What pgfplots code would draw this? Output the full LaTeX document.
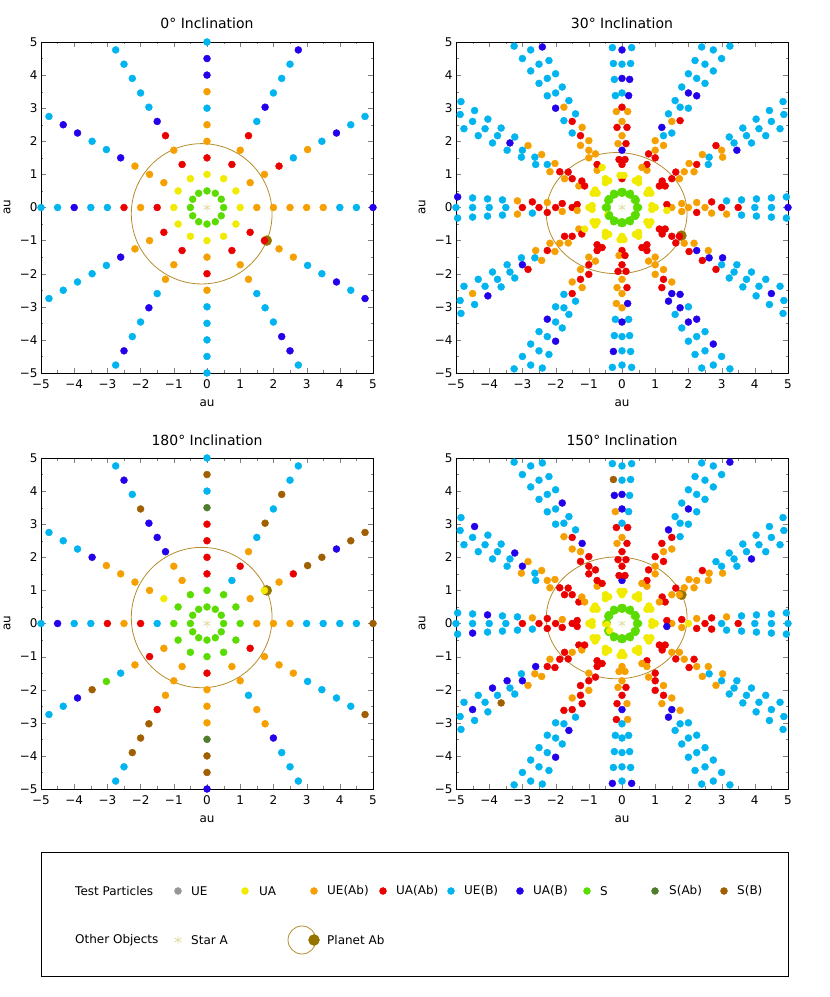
\documentclass[border=0pt]{standalone}
\usepackage{fontspec}
\setmainfont{DejaVu Sans}
\usepackage{pgfplots}
\pgfplotsset{compat=1.18}

\definecolor{cY}{RGB}{240,235,0}
\definecolor{cO}{RGB}{245,160,0}
\definecolor{cR}{RGB}{235,0,0}
\definecolor{cL}{RGB}{0,180,240}
\definecolor{cB}{RGB}{35,0,235}
\definecolor{cG}{RGB}{90,220,0}
\definecolor{cD}{RGB}{80,125,45}
\definecolor{cN}{RGB}{160,95,0}
\definecolor{cE}{RGB}{150,150,150}
\definecolor{orbit}{RGB}{180,140,45}
\definecolor{planet}{RGB}{150,115,0}
\definecolor{star}{RGB}{225,220,165}

\tikzset{lg/.style={anchor=west, inner sep=0pt, font=\fontsize{12}{14}\selectfont}}

\pgfplotsset{
  panel/.style={
    width=332pt, height=331pt, scale only axis,
    xmin=-5, xmax=5, ymin=-5, ymax=5,
    xtick={-5,...,5}, ytick={-5,...,5},
    xticklabels={−5,−4,−3,−2,−1,0,1,2,3,4,5},
    yticklabels={−5,−4,−3,−2,−1,0,1,2,3,4,5},
    minor tick num=1, tick align=inside,
    xtick pos=both, ytick pos=both,
    major tick length=5pt, minor tick length=2.5pt,
    tick label style={font=\fontsize{12}{14}\selectfont},
    xticklabel style={yshift=-3pt},
    xlabel={au}, ylabel={au},
    label style={font=\fontsize{12}{14}\selectfont},
    xlabel style={at={(axis description cs:0.5,0)}, anchor=base, yshift=-34pt},
    ylabel style={at={(axis description cs:-0.092,0.5)}, anchor=base},
    title style={at={(0.5,1)}, anchor=base, yshift=7pt, font=\fontsize{14}{16}\selectfont},
  },
  particles/.style={
    scatter, only marks, mark=*, mark size=3.5pt,
    scatter src=explicit symbolic,
    scatter/classes={
      E={mark=*,cE}, Y={mark=*,cY}, O={mark=*,cO}, R={mark=*,cR},
      L={mark=*,cL}, B={mark=*,cB}, G={mark=*,cG}, D={mark=*,cD}, N={mark=*,cN}}
  },
}

\begin{document}
\begin{tikzpicture}
\path[use as bounding box] (0,0) rectangle (830pt,997pt);

% ---------------- 0 deg ----------------
\begin{axis}[panel, at={(41pt,624pt)}, anchor=south west, title={0° Inclination}]
\draw[orbit, line width=0.8pt] (axis cs:-0.16,-0.19) ellipse [x radius=2.12, y radius=2.12];
\addplot[only marks, mark=*, mark size=5pt, color=planet] coordinates {(1.8,-1.0)};
\addplot[particles] table[meta=c, row sep=\\] {
x y c\\
0.5 0 G\\ 0.43 0.25 G\\ 0.25 0.43 G\\ 0 0.5 G\\ -0.25 0.43 G\\ -0.43 0.25 G\\ -0.5 0 G\\ -0.43 -0.25 G\\ -0.25 -0.43 G\\ 0 -0.5 G\\ 0.25 -0.43 G\\ 0.43 -0.25 G\\
1 0 Y\\ 0.87 0.5 Y\\ 0.5 0.87 Y\\ 0 1 Y\\ -0.5 0.87 Y\\ -0.87 0.5 Y\\ -1 0 Y\\ -0.87 -0.5 Y\\ -0.5 -0.87 Y\\ 0 -1 Y\\ 0.5 -0.87 Y\\ 0.87 -0.5 Y\\
1.5 0 O\\ 1.3 0.75 O\\ 0.75 1.3 R\\ 0 1.5 R\\ -0.75 1.3 R\\ -1.3 0.75 O\\ -1.5 0 R\\ -1.3 -0.75 R\\ -0.75 -1.3 R\\ 0 -1.5 O\\ 0.75 -1.3 R\\ 1.3 -0.75 R\\
2 0 O\\ 1.73 1 O\\ 1 1.73 O\\ 0 2 O\\ -1 1.73 O\\ -1.73 1 O\\ -2 0 O\\ -1.73 -1 O\\ -1 -1.73 O\\ 0 -2 R\\ 1 -1.73 O\\ 1.73 -1 R\\
2.5 0 O\\ 2.17 1.25 R\\ 1.25 2.17 R\\ 0 2.5 O\\ -1.25 2.17 R\\ -2.17 1.25 O\\ -2.5 0 R\\ -2.17 -1.25 O\\ -1.25 -2.17 O\\ 0 -2.5 O\\ 1.25 -2.17 O\\ 2.17 -1.25 O\\
3 0 O\\ 2.6 1.5 L\\ 1.5 2.6 L\\ 0 3 L\\ -1.5 2.6 B\\ -2.6 1.5 B\\ -3 0 L\\ -2.6 -1.5 B\\ -1.5 -2.6 L\\ 0 -3 L\\ 1.5 -2.6 L\\ 2.6 -1.5 O\\
3.5 0 O\\ 3.03 1.75 O\\ 1.75 3.03 B\\ 0 3.5 O\\ -1.75 3.03 L\\ -3.03 1.75 L\\ -3.5 0 L\\ -3.03 -1.75 L\\ -1.75 -3.03 B\\ 0 -3.5 L\\ 1.75 -3.03 L\\ 3.03 -1.75 L\\
4 0 L\\ 3.46 2 L\\ 2 3.46 L\\ 0 4 B\\ -2 3.46 L\\ -3.46 2 L\\ -4 0 B\\ -3.46 -2 L\\ -2 -3.46 L\\ 0 -4 L\\ 2 -3.46 L\\ 3.46 -2 L\\
4.5 0 L\\ 3.9 2.25 B\\ 2.25 3.9 L\\ 0 4.5 B\\ -2.25 3.9 L\\ -3.9 2.25 B\\ -4.5 0 L\\ -3.9 -2.25 L\\ -2.25 -3.9 L\\ 0 -4.5 L\\ 2.25 -3.9 B\\ 3.9 -2.25 B\\
5 0 B\\ 4.33 2.5 L\\ 2.5 4.33 L\\ 0 5 L\\ -2.5 4.33 L\\ -4.33 2.5 B\\ -5 0 L\\ -4.33 -2.5 L\\ -2.5 -4.33 B\\ 0 -5 L\\ 2.5 -4.33 B\\ 4.33 -2.5 L\\
4.76 2.75 L\\ 2.75 4.76 B\\ -2.75 4.76 L\\ -4.76 2.75 L\\ -4.76 -2.75 L\\ -2.75 -4.76 L\\ 2.75 -4.76 L\\ 4.76 -2.75 B\\
};
\addplot[only marks, mark=asterisk, mark size=4pt, line width=0.8pt, color=star] coordinates {(0,0)};
\end{axis}

% ---------------- 30 deg ----------------
\begin{axis}[panel, at={(456pt,624pt)}, anchor=south west, title={30° Inclination}]
\draw[orbit, line width=0.8pt] (axis cs:-0.16,-0.17) ellipse [x radius=2.12, y radius=1.83];
\addplot[only marks, mark=*, mark size=5pt, color=planet] coordinates {(1.79,-0.85)};
\addplot[particles] table[meta=c, row sep=\\] {
x y c\\
0.5 0 G\\ 0.45 0.03 G\\ 0.45 -0.03 G\\ 0.43 0.22 G\\ 0.4 0.27 G\\ 0.375 0.22 G\\
0.25 0.375 G\\ 0.25 0.43 G\\ 0.2 0.4 G\\ 0 0.43 G\\ 0.03 0.48 G\\ -0.03 0.48 G\\
-0.25 0.375 G\\ -0.25 0.43 G\\ -0.2 0.4 G\\ -0.43 0.22 G\\ -0.4 0.27 G\\ -0.375 0.22 G\\
-0.5 0 G\\ -0.45 0.03 G\\ -0.45 -0.03 G\\ -0.43 -0.22 Y\\ -0.4 -0.27 G\\ -0.375 -0.22 G\\
-0.25 -0.375 G\\ -0.25 -0.43 G\\ -0.2 -0.4 G\\ 0 -0.43 G\\ 0.03 -0.48 G\\ -0.03 -0.48 G\\
0.25 -0.375 G\\ 0.25 -0.43 G\\ 0.2 -0.4 G\\ 0.43 -0.22 G\\ 0.4 -0.27 G\\ 0.375 -0.22 G\\
1 0 Y\\ 0.9 0.06 Y\\ 0.9 -0.06 Y\\ 0.87 0.43 Y\\ 0.81 0.53 Y\\ 0.75 0.43 Y\\
0.5 0.75 Y\\ 0.5 0.87 Y\\ 0.4 0.81 Y\\ 0 0.87 R\\ 0.06 0.97 Y\\ -0.06 0.97 Y\\
-0.5 0.75 Y\\ -0.5 0.87 Y\\ -0.4 0.81 Y\\ -0.87 0.43 Y\\ -0.81 0.53 Y\\ -0.75 0.43 Y\\
-1 0 Y\\ -0.9 0.06 Y\\ -0.9 -0.06 Y\\ -0.87 -0.43 Y\\ -0.81 -0.53 Y\\ -0.75 -0.43 Y\\
-0.5 -0.75 Y\\ -0.5 -0.87 Y\\ -0.4 -0.81 Y\\ 0 -0.87 Y\\ 0.06 -0.97 Y\\ -0.06 -0.97 Y\\
0.5 -0.75 Y\\ 0.5 -0.87 Y\\ 0.4 -0.81 Y\\ 0.87 -0.43 Y\\ 0.81 -0.53 Y\\ 0.75 -0.43 Y\\
1.5 0 O\\ 1.35 0.09 R\\ 1.35 -0.09 Y\\
2 0 O\\ 1.8 0.12 O\\ 1.8 -0.12 O\\
2.5 0 O\\ 2.25 0.15 O\\ 2.25 -0.15 R\\
3 0 R\\ 2.7 0.17 R\\ 2.7 -0.17 O\\
3.5 0 R\\ 3.15 0.2 L\\ 3.15 -0.2 O\\
4 0 L\\ 3.6 0.23 L\\ 3.6 -0.23 L\\
4.5 0 L\\ 4.05 0.26 L\\ 4.05 -0.26 L\\
5 0 B\\ 4.5 0.29 L\\ 4.5 -0.29 L\\
4.95 0.32 L\\ 4.95 -0.32 L\\
-1.5 0 R\\ -1.35 0.09 R\\ -1.35 -0.09 O\\
-2 0 R\\ -1.8 0.12 R\\ -1.8 -0.12 O\\
-2.5 0 R\\ -2.25 0.15 O\\ -2.25 -0.15 R\\
-3 0 R\\ -2.7 0.17 R\\ -2.7 -0.17 L\\
-3.5 0 L\\ -3.15 0.2 O\\ -3.15 -0.2 O\\
-4 0 L\\ -3.6 0.23 L\\ -3.6 -0.23 L\\
-4.5 0 L\\ -4.05 0.26 L\\ -4.05 -0.26 L\\
-5 0 L\\ -4.5 0.29 L\\ -4.5 -0.29 L\\
-4.95 0.32 B\\ -4.95 -0.32 L\\
0 1.3 R\\ 0.09 1.45 R\\ -0.09 1.45 R\\
0 1.73 B\\ 0.12 1.93 R\\ -0.12 1.93 O\\
0 2.17 O\\ 0.15 2.42 R\\ -0.15 2.42 R\\
0 2.6 O\\ 0.17 2.9 O\\ -0.17 2.9 O\\
0 3.03 R\\ 0.2 3.38 B\\ -0.2 3.38 L\\
0 3.46 L\\ 0.23 3.87 B\\ -0.23 3.87 L\\
0 3.9 B\\ 0.26 4.35 L\\ -0.26 4.35 L\\
0 4.33 L\\ 0.29 4.83 L\\ -0.29 4.83 L\\
0 4.76 B\\
0 -1.3 R\\ -0.09 -1.45 O\\ 0.09 -1.45 R\\
0 -1.73 R\\ -0.12 -1.93 R\\ 0.12 -1.93 R\\
0 -2.17 O\\ -0.15 -2.42 O\\ 0.15 -2.42 R\\
0 -2.6 O\\ -0.17 -2.9 O\\ 0.17 -2.9 B\\
0 -3.03 O\\ -0.2 -3.38 L\\ 0.2 -3.38 L\\
0 -3.46 B\\ -0.23 -3.87 L\\ 0.23 -3.87 L\\
0 -3.9 L\\ -0.26 -4.35 B\\ 0.26 -4.35 L\\
0 -4.33 L\\ -0.29 -4.83 L\\ 0.29 -4.83 L\\
0 -4.76 L\\
1.3 0.65 R\\ 1.21 0.8 R\\ 1.125 0.65 R\\
1.73 0.87 O\\ 1.62 1.07 R\\ 1.5 0.87 R\\
2.17 1.08 O\\ 2.02 1.33 O\\ 1.875 1.08 O\\
2.6 1.3 L\\ 2.42 1.6 O\\ 2.25 1.3 R\\
3.03 1.52 O\\ 2.83 1.87 R\\ 2.625 1.52 L\\
3.46 1.73 B\\ 3.23 2.13 L\\ 3 1.73 O\\
3.9 1.95 L\\ 3.64 2.4 L\\ 3.375 1.95 L\\
4.33 2.17 L\\ 4.04 2.67 L\\ 3.75 2.17 L\\
4.76 2.38 L\\ 4.44 2.93 L\\ 4.125 2.38 L\\
4.85 3.2 L\\ 4.5 2.6 L\\ 4.875 2.81 L\\
0.75 1.125 O\\ 0.75 1.3 R\\ 0.6 1.21 O\\
1 1.5 R\\ 1 1.73 O\\ 0.8 1.62 R\\
1.25 1.875 O\\ 1.25 2.17 L\\ 1 2.02 O\\
1.5 2.25 L\\ 1.5 2.6 O\\ 1.2 2.42 B\\
1.75 2.625 R\\ 1.75 3.03 L\\ 1.4 2.83 L\\
2 3 L\\ 2 3.46 B\\ 1.6 3.23 L\\
2.25 3.375 B\\ 2.25 3.9 L\\ 1.8 3.64 L\\
2.5 3.75 L\\ 2.5 4.33 L\\ 2 4.04 L\\
2.75 4.125 L\\ 2.75 4.76 L\\ 2.2 4.44 L\\
3 4.5 L\\ 2.4 4.85 L\\ 3.25 4.875 L\\
-0.75 1.125 O\\ -0.75 1.3 R\\ -0.6 1.21 Y\\
-1 1.5 O\\ -1 1.73 O\\ -0.8 1.62 O\\
-1.25 1.875 O\\ -1.25 2.17 R\\ -1 2.02 O\\
-1.5 2.25 L\\ -1.5 2.6 R\\ -1.2 2.42 O\\
-1.75 2.625 L\\ -1.75 3.03 O\\ -1.4 2.83 L\\
-2 3 B\\ -2 3.46 L\\ -1.6 3.23 L\\
-2.25 3.375 L\\ -2.25 3.9 L\\ -1.8 3.64 L\\
-2.5 3.75 L\\ -2.5 4.33 L\\ -2 4.04 L\\
-2.75 4.125 L\\ -2.75 4.76 L\\ -2.2 4.44 L\\
-3 4.5 L\\ -2.4 4.85 B\\ -3.25 4.875 L\\
-1.3 0.65 O\\ -1.21 0.8 R\\ -1.125 0.65 R\\
-1.73 0.87 O\\ -1.62 1.07 R\\ -1.5 0.87 R\\
-2.17 1.08 O\\ -2.02 1.33 O\\ -1.875 1.08 R\\
-2.6 1.3 L\\ -2.42 1.6 O\\ -2.25 1.3 L\\
-3.03 1.52 L\\ -2.83 1.87 O\\ -2.625 1.52 L\\
-3.46 1.73 L\\ -3.23 2.13 L\\ -3 1.73 L\\
-3.9 1.95 L\\ -3.64 2.4 L\\ -3.375 1.95 B\\
-4.33 2.17 L\\ -4.04 2.67 L\\ -3.75 2.17 L\\
-4.76 2.38 L\\ -4.44 2.93 L\\ -4.125 2.38 L\\
-4.85 3.2 L\\ -4.5 2.6 L\\ -4.875 2.81 L\\
-1.3 -0.65 O\\ -1.21 -0.8 R\\ -1.125 -0.65 Y\\
-1.73 -0.87 R\\ -1.62 -1.07 O\\ -1.5 -0.87 R\\
-2.17 -1.08 O\\ -2.02 -1.33 O\\ -1.875 -1.08 O\\
-2.6 -1.3 O\\ -2.42 -1.6 O\\ -2.25 -1.3 R\\
-3.03 -1.52 L\\ -2.83 -1.87 R\\ -2.625 -1.52 L\\
-3.46 -1.73 L\\ -3.23 -2.13 L\\ -3 -1.73 B\\
-3.9 -1.95 L\\ -3.64 -2.4 L\\ -3.375 -1.95 L\\
-4.33 -2.17 L\\ -4.04 -2.67 B\\ -3.75 -2.17 L\\
-4.76 -2.38 L\\ -4.44 -2.93 L\\ -4.125 -2.38 L\\
-4.85 -3.2 L\\ -4.5 -2.6 O\\ -4.875 -2.81 L\\
-0.75 -1.125 R\\ -0.75 -1.3 R\\ -0.6 -1.21 R\\
-1 -1.5 O\\ -1 -1.73 R\\ -0.8 -1.62 O\\
-1.25 -1.875 O\\ -1.25 -2.17 R\\ -1 -2.02 R\\
-1.5 -2.25 O\\ -1.5 -2.6 R\\ -1.2 -2.42 O\\
-1.75 -2.625 L\\ -1.75 -3.03 L\\ -1.4 -2.83 L\\
-2 -3 L\\ -2 -3.46 L\\ -1.6 -3.23 L\\
-2.25 -3.375 B\\ -2.25 -3.9 L\\ -1.8 -3.64 L\\
-2.5 -3.75 L\\ -2.5 -4.33 L\\ -2 -4.04 B\\
-2.75 -4.125 L\\ -2.75 -4.76 L\\ -2.2 -4.44 L\\
-3 -4.5 L\\ -2.4 -4.85 L\\ -3.25 -4.875 L\\
0.75 -1.125 R\\ 0.75 -1.3 R\\ 0.6 -1.21 R\\
1 -1.5 O\\ 1 -1.73 O\\ 0.8 -1.62 O\\
1.25 -1.875 O\\ 1.25 -2.17 R\\ 1 -2.02 O\\
1.5 -2.25 O\\ 1.5 -2.6 B\\ 1.2 -2.42 R\\
1.75 -2.625 B\\ 1.75 -3.03 B\\ 1.4 -2.83 B\\
2 -3 L\\ 2 -3.46 B\\ 1.6 -3.23 L\\
2.25 -3.375 B\\ 2.25 -3.9 L\\ 1.8 -3.64 L\\
2.5 -3.75 L\\ 2.5 -4.33 L\\ 2 -4.04 L\\
2.75 -4.125 B\\ 2.75 -4.76 L\\ 2.2 -4.44 L\\
3 -4.5 L\\ 2.4 -4.85 L\\ 3.25 -4.875 L\\
1.3 -0.65 R\\ 1.21 -0.8 R\\ 1.125 -0.65 R\\
1.73 -0.87 R\\ 1.62 -1.07 R\\ 1.5 -0.87 R\\
2.17 -1.08 O\\ 2.02 -1.33 R\\ 1.875 -1.08 O\\
2.6 -1.3 O\\ 2.42 -1.6 R\\ 2.25 -1.3 B\\
3.03 -1.52 B\\ 2.83 -1.87 R\\ 2.625 -1.52 B\\
3.46 -1.73 L\\ 3.23 -2.13 L\\ 3 -1.73 L\\
3.9 -1.95 L\\ 3.64 -2.4 L\\ 3.375 -1.95 L\\
4.33 -2.17 L\\ 4.04 -2.67 L\\ 3.75 -2.17 L\\
4.76 -2.38 L\\ 4.44 -2.93 L\\ 4.125 -2.38 L\\
4.85 -3.2 L\\ 4.5 -2.6 B\\ 4.875 -2.81 L\\
};
\addplot[only marks, mark=asterisk, mark size=4pt, line width=0.8pt, color=star] coordinates {(0,0)};
\end{axis}

% ---------------- 180 deg ----------------
\begin{axis}[panel, at={(41pt,208pt)}, anchor=south west, title={180° Inclination}]
\draw[orbit, line width=0.8pt] (axis cs:-0.16,0.18) ellipse [x radius=2.12, y radius=2.12];
\addplot[only marks, mark=*, mark size=5pt, color=planet] coordinates {(1.8,1.0)};
\addplot[particles] table[meta=c, row sep=\\] {
x y c\\
0.5 0 G\\ 0.43 0.25 G\\ 0.25 0.43 G\\ 0 0.5 G\\ -0.25 0.43 G\\ -0.43 0.25 G\\ -0.5 0 G\\ -0.43 -0.25 G\\ -0.25 -0.43 G\\ 0 -0.5 G\\ 0.25 -0.43 G\\ 0.43 -0.25 G\\
1 0 G\\ 0.87 0.5 G\\ 0.5 0.87 G\\ 0 1 G\\ -0.5 0.87 G\\ -0.87 0.5 G\\ -1 0 G\\ -0.87 -0.5 G\\ -0.5 -0.87 G\\ 0 -1 G\\ 0.5 -0.87 G\\ 0.87 -0.5 G\\
1.5 0 O\\ 1.3 0.75 O\\ 0.75 1.3 L\\ 0 1.5 R\\ -0.75 1.3 O\\ -1.3 0.75 Y\\ -1.5 0 L\\ -1.3 -0.75 O\\ -0.75 -1.3 O\\ 0 -1.5 R\\ 0.75 -1.3 O\\ 1.3 -0.75 R\\
2 0 O\\ 1.73 1 Y\\ 1 1.73 R\\ 0 2 R\\ -1 1.73 O\\ -1.73 1 O\\ -2 0 R\\ -1.73 -1 R\\ -1 -1.73 O\\ 0 -2 O\\ 1 -1.73 O\\ 1.73 -1 O\\
2.5 0 O\\ 2.17 1.25 O\\ 1.25 2.17 O\\ 0 2.5 R\\ -1.25 2.17 B\\ -2.17 1.25 O\\ -2.5 0 O\\ -2.17 -1.25 O\\ -1.25 -2.17 O\\ 0 -2.5 O\\ 1.25 -2.17 L\\ 2.17 -1.25 O\\
3 0 L\\ 2.6 1.5 R\\ 1.5 2.6 L\\ 0 3 R\\ -1.5 2.6 B\\ -2.6 1.5 O\\ -3 0 R\\ -2.6 -1.5 L\\ -1.5 -2.6 R\\ 0 -3 O\\ 1.5 -2.6 O\\ 2.6 -1.5 O\\
3.5 0 L\\ 3.03 1.75 N\\ 1.75 3.03 N\\ 0 3.5 D\\ -1.75 3.03 B\\ -3.03 1.75 O\\ -3.5 0 L\\ -3.03 -1.75 G\\ -1.75 -3.03 N\\ 0 -3.5 D\\ 1.75 -3.03 O\\ 3.03 -1.75 L\\
4 0 L\\ 3.46 2 N\\ 2 3.46 L\\ 0 4 L\\ -2 3.46 N\\ -3.46 2 B\\ -4 0 L\\ -3.46 -2 N\\ -2 -3.46 N\\ 0 -4 N\\ 2 -3.46 B\\ 3.46 -2 L\\
4.5 0 L\\ 3.9 2.25 B\\ 2.25 3.9 N\\ 0 4.5 N\\ -2.25 3.9 L\\ -3.9 2.25 L\\ -4.5 0 B\\ -3.9 -2.25 B\\ -2.25 -3.9 N\\ 0 -4.5 N\\ 2.25 -3.9 L\\ 3.9 -2.25 L\\
5 0 N\\ 4.33 2.5 N\\ 2.5 4.33 L\\ 0 5 L\\ -2.5 4.33 B\\ -4.33 2.5 L\\ -5 0 L\\ -4.33 -2.5 L\\ -2.5 -4.33 L\\ 0 -5 B\\ 2.5 -4.33 L\\ 4.33 -2.5 L\\
4.76 2.75 N\\ 2.75 4.76 L\\ -2.75 4.76 L\\ -4.76 2.75 L\\ -4.76 -2.75 L\\ -2.75 -4.76 L\\ 2.75 -4.76 L\\ 4.76 -2.75 N\\
};
\addplot[only marks, mark=asterisk, mark size=4pt, line width=0.8pt, color=star] coordinates {(0,0)};
\end{axis}

% ---------------- 150 deg ----------------
\begin{axis}[panel, at={(456pt,208pt)}, anchor=south west, title={150° Inclination}]
\draw[orbit, line width=0.8pt] (axis cs:-0.16,0.17) ellipse [x radius=2.12, y radius=1.84];
\addplot[only marks, mark=*, mark size=5pt, color=planet] coordinates {(1.79,0.87)};
\addplot[particles] table[meta=c, row sep=\\] {
x y c\\
0.5 0 G\\ 0.45 0.03 G\\ 0.45 -0.03 G\\ 0.43 0.22 G\\ 0.4 0.27 G\\ 0.375 0.22 G\\
0.25 0.375 G\\ 0.25 0.43 G\\ 0.2 0.4 G\\ 0 0.43 G\\ 0.03 0.48 G\\ -0.03 0.48 G\\
-0.25 0.375 G\\ -0.25 0.43 G\\ -0.2 0.4 G\\ -0.43 0.22 G\\ -0.4 0.27 G\\ -0.375 0.22 G\\
-0.5 0 Y\\ -0.45 0.03 G\\ -0.45 -0.03 Y\\ -0.43 -0.22 G\\ -0.4 -0.27 G\\ -0.375 -0.22 Y\\
-0.25 -0.375 G\\ -0.25 -0.43 G\\ -0.2 -0.4 G\\ 0 -0.43 G\\ 0.03 -0.48 G\\ -0.03 -0.48 G\\
0.25 -0.375 G\\ 0.25 -0.43 G\\ 0.2 -0.4 G\\ 0.43 -0.22 G\\ 0.4 -0.27 G\\ 0.375 -0.22 G\\
1 0 Y\\ 0.9 0.06 Y\\ 0.9 -0.06 Y\\ 0.87 0.43 Y\\ 0.81 0.53 Y\\ 0.75 0.43 Y\\
0.5 0.75 Y\\ 0.5 0.87 Y\\ 0.4 0.81 Y\\ 0 0.87 Y\\ 0.06 0.97 Y\\ -0.06 0.97 Y\\
-0.5 0.75 Y\\ -0.5 0.87 Y\\ -0.4 0.81 Y\\ -0.87 0.43 Y\\ -0.81 0.53 Y\\ -0.75 0.43 Y\\
-1 0 Y\\ -0.9 0.06 Y\\ -0.9 -0.06 Y\\ -0.87 -0.43 Y\\ -0.81 -0.53 Y\\ -0.75 -0.43 Y\\
-0.5 -0.75 Y\\ -0.5 -0.87 Y\\ -0.4 -0.81 Y\\ 0 -0.87 Y\\ 0.06 -0.97 Y\\ -0.06 -0.97 Y\\
0.5 -0.75 Y\\ 0.5 -0.87 Y\\ 0.4 -0.81 Y\\ 0.87 -0.43 Y\\ 0.81 -0.53 Y\\ 0.75 -0.43 Y\\
1.5 0 O\\ 1.35 0.09 R\\ 1.35 -0.09 B\\
2 0 Y\\ 1.8 0.12 R\\ 1.8 -0.12 O\\
2.5 0 R\\ 2.25 0.15 O\\ 2.25 -0.15 R\\
3 0 L\\ 2.7 0.17 R\\ 2.7 -0.17 R\\
3.5 0 R\\ 3.15 0.2 O\\ 3.15 -0.2 L\\
4 0 L\\ 3.6 0.23 L\\ 3.6 -0.23 L\\
4.5 0 L\\ 4.05 0.26 L\\ 4.05 -0.26 L\\
5 0 L\\ 4.5 0.29 L\\ 4.5 -0.29 L\\
4.95 0.32 L\\ 4.95 -0.32 L\\
-1.5 0 R\\ -1.35 0.09 R\\ -1.35 -0.09 R\\
-2 0 R\\ -1.8 0.12 O\\ -1.8 -0.12 R\\
-2.5 0 R\\ -2.25 0.15 R\\ -2.25 -0.15 R\\
-3 0 R\\ -2.7 0.17 O\\ -2.7 -0.17 L\\
-3.5 0 L\\ -3.15 0.2 L\\ -3.15 -0.2 L\\
-4 0 L\\ -3.6 0.23 L\\ -3.6 -0.23 L\\
-4.5 0 L\\ -4.05 0.26 B\\ -4.05 -0.26 L\\
-5 0 L\\ -4.5 0.29 L\\ -4.5 -0.29 B\\
-4.95 0.32 L\\ -4.95 -0.32 L\\
0 1.3 B\\ 0.09 1.45 R\\ -0.09 1.45 R\\
0 1.73 R\\ 0.12 1.93 R\\ -0.12 1.93 R\\
0 2.17 R\\ 0.15 2.42 R\\ -0.15 2.42 O\\
0 2.6 O\\ 0.17 2.9 R\\ -0.17 2.9 R\\
0 3.03 L\\ 0.2 3.38 L\\ -0.2 3.38 O\\
0 3.46 B\\ 0.23 3.87 L\\ -0.23 3.87 B\\
0 3.9 B\\ 0.26 4.35 L\\ -0.26 4.35 N\\
0 4.33 L\\ 0.29 4.83 L\\ -0.29 4.83 L\\
0 4.76 L\\
0 -1.3 O\\ -0.09 -1.45 O\\ 0.09 -1.45 O\\
0 -1.73 O\\ -0.12 -1.93 O\\ 0.12 -1.93 R\\
0 -2.17 R\\ -0.15 -2.42 R\\ 0.15 -2.42 O\\
0 -2.6 B\\ -0.17 -2.9 R\\ 0.17 -2.9 O\\
0 -3.03 L\\ -0.2 -3.38 L\\ 0.2 -3.38 L\\
0 -3.46 L\\ -0.23 -3.87 L\\ 0.23 -3.87 L\\
0 -3.9 L\\ -0.26 -4.35 L\\ 0.26 -4.35 L\\
0 -4.33 L\\ -0.29 -4.83 B\\ 0.29 -4.83 B\\
0 -4.76 L\\
1.3 0.65 R\\ 1.21 0.8 R\\ 1.125 0.65 O\\
1.73 0.87 O\\ 1.62 1.07 R\\ 1.5 0.87 O\\
2.17 1.08 O\\ 2.02 1.33 O\\ 1.875 1.08 O\\
2.6 1.3 O\\ 2.42 1.6 R\\ 2.25 1.3 O\\
3.03 1.52 O\\ 2.83 1.87 L\\ 2.625 1.52 O\\
3.46 1.73 L\\ 3.23 2.13 L\\ 3 1.73 L\\
3.9 1.95 B\\ 3.64 2.4 L\\ 3.375 1.95 L\\
4.33 2.17 L\\ 4.04 2.67 L\\ 3.75 2.17 L\\
4.76 2.38 L\\ 4.44 2.93 L\\ 4.125 2.38 L\\
4.85 3.2 L\\ 4.5 2.6 L\\ 4.875 2.81 L\\
0.75 1.125 O\\ 0.75 1.3 R\\ 0.6 1.21 O\\
1 1.5 O\\ 1 1.73 O\\ 0.8 1.62 R\\
1.25 1.875 R\\ 1.25 2.17 O\\ 1 2.02 R\\
1.5 2.25 O\\ 1.5 2.6 R\\ 1.2 2.42 R\\
1.75 2.625 L\\ 1.75 3.03 L\\ 1.4 2.83 B\\
2 3 L\\ 2 3.46 B\\ 1.6 3.23 L\\
2.25 3.375 L\\ 2.25 3.9 L\\ 1.8 3.64 L\\
2.5 3.75 L\\ 2.5 4.33 L\\ 2 4.04 L\\
2.75 4.125 L\\ 2.75 4.76 L\\ 2.2 4.44 L\\
3 4.5 L\\ 2.4 4.85 L\\ 3.25 4.875 B\\
-0.75 1.125 O\\ -0.75 1.3 R\\ -0.6 1.21 R\\
-1 1.5 R\\ -1 1.73 R\\ -0.8 1.62 R\\
-1.25 1.875 R\\ -1.25 2.17 O\\ -1 2.02 R\\
-1.5 2.25 O\\ -1.5 2.6 R\\ -1.2 2.42 B\\
-1.75 2.625 O\\ -1.75 3.03 L\\ -1.4 2.83 L\\
-2 3 L\\ -2 3.46 L\\ -1.6 3.23 L\\
-2.25 3.375 L\\ -2.25 3.9 L\\ -1.8 3.64 B\\
-2.5 3.75 L\\ -2.5 4.33 L\\ -2 4.04 L\\
-2.75 4.125 L\\ -2.75 4.76 L\\ -2.2 4.44 L\\
-3 4.5 L\\ -2.4 4.85 L\\ -3.25 4.875 L\\
-1.3 0.65 R\\ -1.21 0.8 O\\ -1.125 0.65 O\\
-1.73 0.87 R\\ -1.62 1.07 R\\ -1.5 0.87 R\\
-2.17 1.08 O\\ -2.02 1.33 O\\ -1.875 1.08 R\\
-2.6 1.3 L\\ -2.42 1.6 O\\ -2.25 1.3 O\\
-3.03 1.52 O\\ -2.83 1.87 O\\ -2.625 1.52 L\\
-3.46 1.73 L\\ -3.23 2.13 B\\ -3 1.73 B\\
-3.9 1.95 L\\ -3.64 2.4 L\\ -3.375 1.95 L\\
-4.33 2.17 L\\ -4.04 2.67 L\\ -3.75 2.17 L\\
-4.76 2.38 L\\ -4.44 2.93 B\\ -4.125 2.38 L\\
-4.85 3.2 L\\ -4.5 2.6 L\\ -4.875 2.81 L\\
-1.3 -0.65 R\\ -1.21 -0.8 O\\ -1.125 -0.65 R\\
-1.73 -0.87 R\\ -1.62 -1.07 R\\ -1.5 -0.87 O\\
-2.17 -1.08 O\\ -2.02 -1.33 R\\ -1.875 -1.08 R\\
-2.6 -1.3 B\\ -2.42 -1.6 O\\ -2.25 -1.3 R\\
-3.03 -1.52 L\\ -2.83 -1.87 O\\ -2.625 -1.52 O\\
-3.46 -1.73 B\\ -3.23 -2.13 L\\ -3 -1.73 B\\
-3.9 -1.95 B\\ -3.64 -2.4 N\\ -3.375 -1.95 L\\
-4.33 -2.17 L\\ -4.04 -2.67 L\\ -3.75 -2.17 L\\
-4.76 -2.38 L\\ -4.44 -2.93 L\\ -4.125 -2.38 L\\
-4.85 -3.2 L\\ -4.5 -2.6 B\\ -4.875 -2.81 L\\
-0.75 -1.125 R\\ -0.75 -1.3 R\\ -0.6 -1.21 R\\
-1 -1.5 O\\ -1 -1.73 R\\ -0.8 -1.62 R\\
-1.25 -1.875 R\\ -1.25 -2.17 R\\ -1 -2.02 O\\
-1.5 -2.25 O\\ -1.5 -2.6 R\\ -1.2 -2.42 R\\
-1.75 -2.625 R\\ -1.75 -3.03 L\\ -1.4 -2.83 L\\
-2 -3 L\\ -2 -3.46 L\\ -1.6 -3.23 B\\
-2.25 -3.375 L\\ -2.25 -3.9 L\\ -1.8 -3.64 L\\
-2.5 -3.75 L\\ -2.5 -4.33 L\\ -2 -4.04 B\\
-2.75 -4.125 L\\ -2.75 -4.76 L\\ -2.2 -4.44 L\\
-3 -4.5 L\\ -2.4 -4.85 L\\ -3.25 -4.875 L\\
0.75 -1.125 R\\ 0.75 -1.3 O\\ 0.6 -1.21 O\\
1 -1.5 R\\ 1 -1.73 R\\ 0.8 -1.62 O\\
1.25 -1.875 O\\ 1.25 -2.17 R\\ 1 -2.02 R\\
1.5 -2.25 O\\ 1.5 -2.6 B\\ 1.2 -2.42 O\\
1.75 -2.625 O\\ 1.75 -3.03 L\\ 1.4 -2.83 B\\
2 -3 L\\ 2 -3.46 L\\ 1.6 -3.23 L\\
2.25 -3.375 L\\ 2.25 -3.9 L\\ 1.8 -3.64 L\\
2.5 -3.75 L\\ 2.5 -4.33 L\\ 2 -4.04 L\\
2.75 -4.125 L\\ 2.75 -4.76 L\\ 2.2 -4.44 L\\
3 -4.5 L\\ 2.4 -4.85 L\\ 3.25 -4.875 L\\
1.3 -0.65 R\\ 1.21 -0.8 R\\ 1.125 -0.65 R\\
1.73 -0.87 O\\ 1.62 -1.07 R\\ 1.5 -0.87 O\\
2.17 -1.08 R\\ 2.02 -1.33 R\\ 1.875 -1.08 O\\
2.6 -1.3 O\\ 2.42 -1.6 O\\ 2.25 -1.3 O\\
3.03 -1.52 O\\ 2.83 -1.87 O\\ 2.625 -1.52 L\\
3.46 -1.73 L\\ 3.23 -2.13 L\\ 3 -1.73 L\\
3.9 -1.95 L\\ 3.64 -2.4 L\\ 3.375 -1.95 L\\
4.33 -2.17 L\\ 4.04 -2.67 L\\ 3.75 -2.17 L\\
4.76 -2.38 L\\ 4.44 -2.93 L\\ 4.125 -2.38 L\\
4.85 -3.2 L\\ 4.5 -2.6 L\\ 4.875 -2.81 L\\
};
\addplot[only marks, mark=asterisk, mark size=4pt, line width=0.8pt, color=star] coordinates {(0,0)};
\end{axis}

% ---------------- legend box ----------------
\begin{axis}[at={(41pt,21pt)}, anchor=south west, width=747pt, height=124pt, scale only axis,
  xmin=41, xmax=788, ymin=21, ymax=145, xtick=\empty, ytick=\empty, clip=false]
\node[lg] at (axis cs:75,106) {Test Particles};
\addplot[only marks, mark=*, mark size=3.5pt, color=cE] coordinates {(178,106)};
\node[lg] at (axis cs:191,106) {UE};
\addplot[only marks, mark=*, mark size=3.5pt, color=cY] coordinates {(245,106)};
\node[lg] at (axis cs:259,106) {UA};
\addplot[only marks, mark=*, mark size=3.5pt, color=cO] coordinates {(314,106)};
\node[lg] at (axis cs:327,106) {UE(Ab)};
\addplot[only marks, mark=*, mark size=3.5pt, color=cR] coordinates {(383,106)};
\node[lg] at (axis cs:396,106) {UA(Ab)};
\addplot[only marks, mark=*, mark size=3.5pt, color=cL] coordinates {(451,106)};
\node[lg] at (axis cs:464,106) {UE(B)};
\addplot[only marks, mark=*, mark size=3.5pt, color=cB] coordinates {(520,106)};
\node[lg] at (axis cs:533,106) {UA(B)};
\addplot[only marks, mark=*, mark size=3.5pt, color=cG] coordinates {(587,106)};
\node[lg] at (axis cs:600,106) {S};
\addplot[only marks, mark=*, mark size=3.5pt, color=cD] coordinates {(655,106)};
\node[lg] at (axis cs:669,106) {S(Ab)};
\addplot[only marks, mark=*, mark size=3.5pt, color=cN] coordinates {(724,106)};
\node[lg] at (axis cs:737,106) {S(B)};
\node[lg] at (axis cs:75,57) {Other Objects};
\addplot[only marks, mark=asterisk, mark size=4pt, line width=0.8pt, color=star] coordinates {(178,57)};
\node[lg] at (axis cs:191,57) {Star A};
\draw[orbit, line width=0.8pt] (axis cs:302,57) circle [radius=14];
\addplot[only marks, mark=*, mark size=5.5pt, color=planet] coordinates {(314,57)};
\node[lg] at (axis cs:327,57) {Planet Ab};
\end{axis}
\end{tikzpicture}
\end{document}
